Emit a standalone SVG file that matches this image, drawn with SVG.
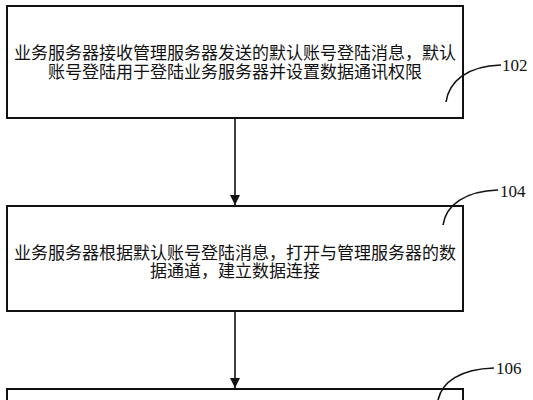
<svg xmlns="http://www.w3.org/2000/svg" width="533" height="400" viewBox="0 0 533 400">
<style>
.box{fill:#fff;stroke:#111;stroke-width:2}
.t{font-family:"Liberation Serif","Noto Sans CJK SC",serif;font-size:17px;fill:#111;text-anchor:middle}
.lbl{font-family:"Liberation Serif",serif;font-size:17px;fill:#111}
.lead{fill:none;stroke:#111;stroke-width:1.6}
.conn{stroke:#111;stroke-width:1.6;fill:none}
</style>
<defs>
<marker id="ah" viewBox="0 0 10 10" refX="10" refY="5" markerWidth="10" markerHeight="10" markerUnits="userSpaceOnUse" orient="auto">
<path d="M0,0 L10,5 L0,10 z" fill="#111"/>
</marker>
</defs>
<rect width="533" height="400" fill="#fff"/>
<g id="node102">
<rect class="box" x="7" y="6" width="456" height="112"/>
<text class="t" x="235" y="59">业务服务器接收管理服务器发送的默认账号登陆消息，默认</text>
<text class="t" x="235" y="78">账号登陆用于登陆业务服务器并设置数据通讯权限</text>
<path class="lead" d="M446,102 C449,82 466,66 501,65"/>
<text class="lbl" x="502" y="71">102</text>
</g>
<g id="node104">
<rect class="box" x="7" y="206" width="456" height="105"/>
<text class="t" x="235" y="259">业务服务器根据默认账号登陆消息，打开与管理服务器的数</text>
<text class="t" x="235" y="277">据通道，建立数据连接</text>
<path class="lead" d="M443,225 C446,205 465,191 498,190"/>
<text class="lbl" x="500" y="197">104</text>
</g>
<g id="node106">
<rect class="box" x="7" y="389" width="456" height="30"/>
<path class="lead" d="M438,400 C442,382 460,369 494,368"/>
<text class="lbl" x="496" y="374">106</text>
</g>
<g id="connectors">
<line class="conn" x1="235" y1="118" x2="235" y2="205" marker-end="url(#ah)"/>
<line class="conn" x1="235" y1="311" x2="235" y2="388" marker-end="url(#ah)"/>
</g>
</svg>
